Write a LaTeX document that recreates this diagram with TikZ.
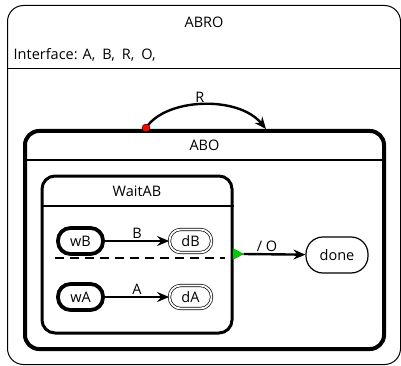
\documentclass[tikz,border=0pt]{standalone}
\usepackage{fontspec}
\setmainfont{Open Sans}
\usetikzlibrary{arrows.meta}

\tikzset{
  region/.style={shape=rectangle, draw=black, rounded corners=14pt, inner sep=0pt},
  simple/.style={shape=rectangle, draw=black, rounded corners=12.5pt, inner sep=0pt, minimum width=45pt, minimum height=26pt},
  initial/.style={simple, line width=3.8pt},
  final/.style={simple, line width=0.7pt, double, double distance=1.8pt, rounded corners=11pt, minimum width=42pt, minimum height=23pt},
  trans/.style={line width=2.4pt, -{Stealth[length=12pt,width=10pt,inset=4pt]}},
  lbl/.style={font=\fontsize{14.5}{16}\selectfont, inner sep=1pt}
}

\begin{document}
\begin{tikzpicture}[x=1pt, y=-1pt, every node/.style={font=\fontsize{14.5}{16}\selectfont}]
	\useasboundingbox (0,0) rectangle (401,366);
	
	\node[region, line width=1pt, rounded corners=16pt, minimum width=393pt, minimum height=359pt] (abro) at (204, 185) {};
	\node (abrotitle) at (204, 22) {ABRO};
	\node[anchor=west, inner sep=0pt] (iface) at (13.5, 55) {Interface: A,\hspace{7pt}B,\hspace{7pt}R,\hspace{7pt}O,};
	\draw[line width=1pt] (abro.west |- 0,69) -- (abro.east |- 0,69);
	
	\node[region, line width=4pt, minimum width=359pt, minimum height=218pt] (abo) at (204.5, 240) {};
	\node (abotitle) at (204.5, 145) {ABO};
	\draw[line width=1.2pt] (abo.west |- 0,160) -- (abo.east |- 0,160);
	
	\node[region, line width=3pt, rounded corners=13pt, minimum width=190pt, minimum height=157pt] (wait) at (137, 254.5) {};
	\node (waittitle) at (137, 191) {WaitAB};
	\draw[line width=1.2pt] (wait.west |- 0,206) -- (wait.east |- 0,206);
	\draw[line width=1.1pt, dash pattern=on 9pt off 6pt] (55, 258) -- (225, 258);
	
	\node[initial] (wB) at (80.5, 241) {wB};
	\node[final] (dB) at (190.5, 241) {dB};
	\node[initial] (wA) at (80.5, 297) {wA};
	\node[final] (dA) at (190.5, 297) {dA};
	\node[shape=rectangle, draw=black, line width=1.2pt, rounded corners=17pt, minimum width=62pt, minimum height=36pt] (done) at (337, 255) {done};
	
	\draw[trans] (wB) -- node[lbl, above] {B} (dB);
	\draw[trans] (wA) -- node[lbl, above] {A} (dA);
	
	% termination
	\coordinate (term) at (243.5, 254);
	\fill[green!80!black, draw=green!60!black, line width=0.3pt] (233, 248.5) -- (term) -- (233, 259.5) -- cycle;
	\draw[trans] (term) -- node[lbl, above, pos=0.38] {/ O} (done);
	
	% strong abort
	\coordinate (rsrc) at (146, 128);
	\coordinate (rdst) at (266, 129);
	\draw[trans] (rsrc) .. controls (165, 98) and (238, 95) .. node[lbl, above, pos=0.48] {R} (rdst);
	\node[shape=circle, fill=red, draw=black, line width=0.4pt, inner sep=0pt, minimum size=8pt] (rdot) at (rsrc) {};
\end{tikzpicture}
\end{document}
